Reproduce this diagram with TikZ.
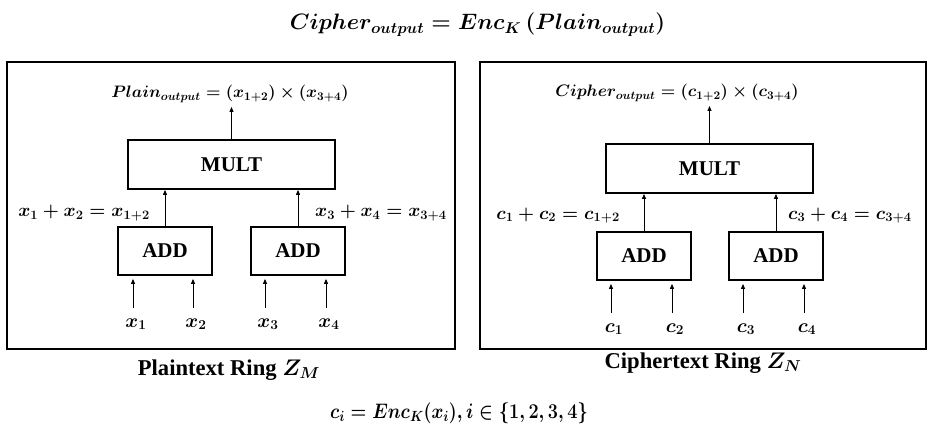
\RequirePackage{fix-cm}
\documentclass[tikz,border=0pt]{standalone}
\usepackage{fontspec}
\setmainfont{Liberation Serif}
\usepackage{amsmath}
\usepackage{graphicx}
\usetikzlibrary{arrows.meta}
\tikzset{
  frame/.style={draw, line width=2pt},
  opbox/.style={draw, line width=1.8pt, font=\fontsize{21}{23}\selectfont\bfseries, inner sep=0pt},
  arr/.style={line width=1pt, -{Triangle[length=5pt,width=4pt]}},
  outlbl/.style={inner sep=0pt, anchor=base, font=\fontsize{16.6}{18}\selectfont\boldmath},
  lbl/.style={inner sep=0pt, font=\fontsize{18.4}{20}\selectfont\boldmath},
  inlbl/.style={inner sep=0pt, anchor=base, font=\fontsize{19.5}{21}\selectfont\boldmath},
  caption/.style={inner sep=0pt, anchor=base, font=\fontsize{22.6}{24}\selectfont\bfseries\boldmath},
  eqn/.style={inner sep=0pt, anchor=base, font=\fontsize{22.3}{24}\selectfont\boldmath},
  eqnb/.style={inner sep=0pt, anchor=base, font=\fontsize{21}{23}\selectfont\boldmath}
}
\begin{document}
\begin{tikzpicture}[x=1pt,y=-1pt]
\useasboundingbox (0,0) rectangle (930,433);

% headline relation
\node[eqn] (title) at (477.5,30) {$Cipher_{output} = Enc_{K}\,(Plain_{output})$};

% ---------------- plaintext ring ----------------
\node[frame, minimum width=448pt, minimum height=287pt] (frameL) at (231,205.5) {};
\node[opbox, minimum width=207pt, minimum height=49pt] (multL) at (231.5,164.5) {MULT};
\node[opbox, minimum width=94pt, minimum height=48pt] (addLa) at (165,251) {ADD};
\node[opbox, minimum width=94pt, minimum height=48pt] (addLb) at (298,251) {ADD};

\node[outlbl] (outL) at (230,98) {$Plain_{output} = (x_{1+2})\times(x_{3+4})$};
\draw[arr] (multL.north) -- ([yshift=-4pt]multL.north |- outL.south);

\node[lbl, anchor=base east] (sumLa) at (150,217) {$x_1+x_2=x_{1+2}$};
\node[lbl, anchor=base west] (sumLb) at (315,217) {$x_3+x_4=x_{3+4}$};
\draw[arr] (addLa.north) -- (addLa.north |- multL.south);
\draw[arr] (addLb.north) -- (addLb.north |- multL.south);

\node[inlbl] (x1) at (136,327) {$x_1$};
\node[inlbl] (x2) at (196,327) {$x_2$};
\node[inlbl] (x3) at (268,327) {$x_3$};
\node[inlbl] (x4) at (329,327) {$x_4$};
\foreach \v/\b in {x1/addLa, x2/addLa, x3/addLb, x4/addLb}
  \draw[arr] ([yshift=10pt,xshift=-3pt]\v.north) -- ([yshift=-3pt,xshift=-3pt]\v.north |- \b.south);

\node[caption] (ringL) at (229,375) {Plaintext Ring $Z_M$};

% ---------------- ciphertext ring ----------------
\node[frame, minimum width=446pt, minimum height=287pt] (frameR) at (703,205.5) {};
\node[opbox, minimum width=207pt, minimum height=49pt] (multR) at (709.5,168.5) {MULT};
\node[opbox, minimum width=94pt, minimum height=48pt] (addRa) at (644,256) {ADD};
\node[opbox, minimum width=94pt, minimum height=48pt] (addRb) at (776,256) {ADD};

\node[outlbl] (outR) at (677,97) {$Cipher_{output} = (c_{1+2})\times(c_{3+4})$};
\draw[arr] (multR.north) -- ([yshift=-4pt]multR.north |- outR.south);

\node[lbl, anchor=base east] (sumRa) at (620,219) {$c_1+c_2=c_{1+2}$};
\node[lbl, anchor=base west] (sumRb) at (788,219) {$c_3+c_4=c_{3+4}$};
\draw[arr] (addRa.north) -- (addRa.north |- multR.south);
\draw[arr] (addRb.north) -- (addRb.north |- multR.south);

\node[inlbl] (c1) at (614,332) {$c_1$};
\node[inlbl] (c2) at (675,332) {$c_2$};
\node[inlbl] (c3) at (746,332) {$c_3$};
\node[inlbl] (c4) at (807,332) {$c_4$};
\foreach \v/\b in {c1/addRa, c2/addRa, c3/addRb, c4/addRb}
  \draw[arr] ([yshift=10pt,xshift=-3pt]\v.north) -- ([yshift=-3pt,xshift=-3pt]\v.north |- \b.south);

\node[caption] (ringR) at (703,368) {Ciphertext Ring $Z_N$};

% encryption of each input, set slightly condensed
\node[eqnb] (enc) at (459,418) {\scalebox{0.86}[1]{\boldmath$c_i = Enc_K(x_i), i\in\{1,2,3,4\}$}};
\end{tikzpicture}
\end{document}
